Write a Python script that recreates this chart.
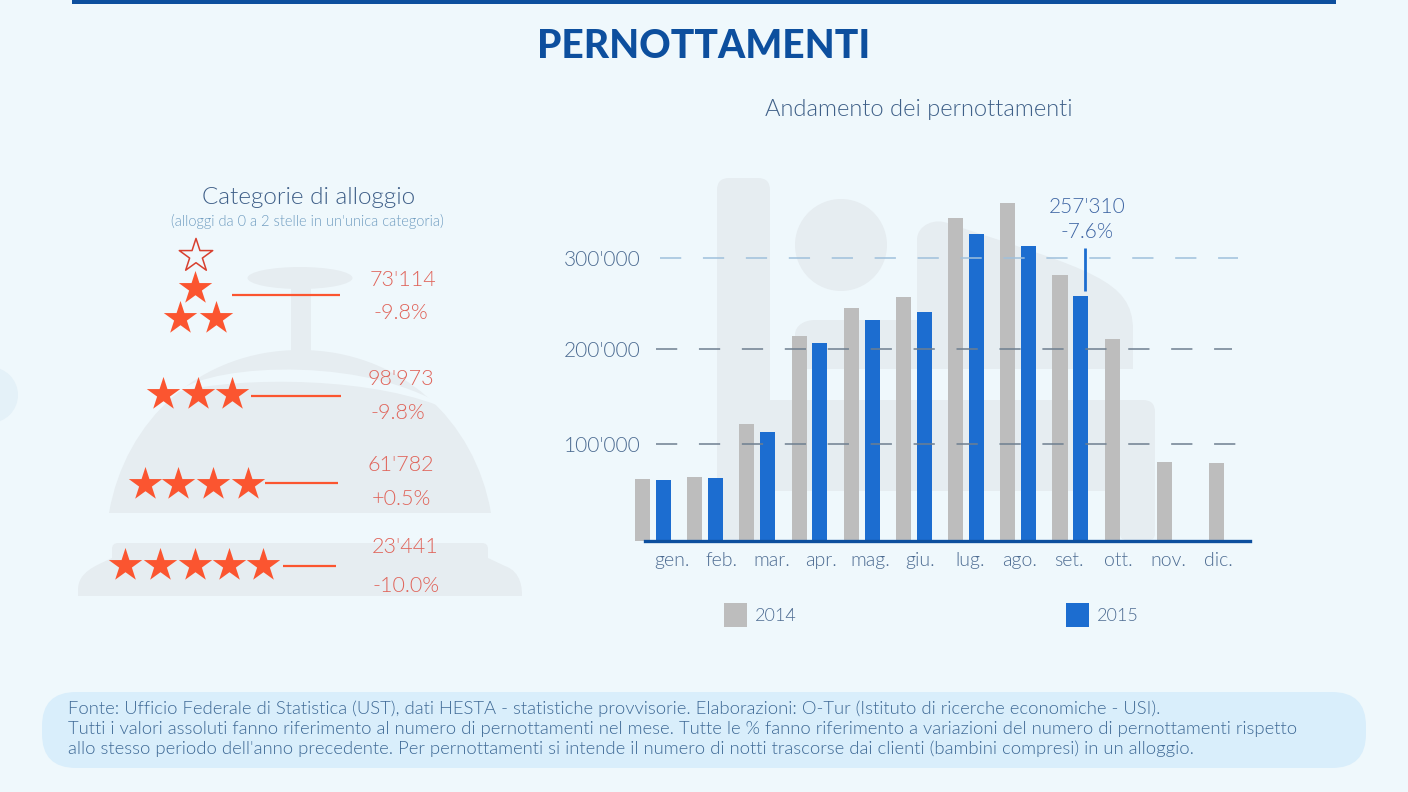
import numpy as np, pandas as pd, seaborn as sns
import matplotlib
matplotlib.use("Agg")
import matplotlib.pyplot as plt
from matplotlib.patches import FancyBboxPatch, Ellipse, Rectangle, PathPatch, Circle
from matplotlib.path import Path

mesi = ["gen.", "feb.", "mar.", "apr.", "mag.", "giu.", "lug.", "ago.", "set.", "ott.", "nov.", "dic."]
val_2014 = [65000, 67000, 123000, 215000, 245000, 256000, 339000, 355000, 279000, 212000, 83000, 82000]
val_2015 = [64000, 66000, 114500, 208000, 232000, 240500, 322500, 310000, 257310, np.nan, np.nan, np.nan]
griglia = [102000, 202000, 297000]
griglia_etichette = ["100'000", "200'000", "300'000"]
cat_numeri = ["73'114", "98'973", "61'782", "23'441"]
cat_var = ["-9.8%", "-9.8%", "+0.5%", "-10.0%"]

BG, SHAPE = "#eff8fc", "#e6edf1"
NAVY, BLUE, GREY, RED = "#0d4f9e", "#1c6dd0", "#bdbdbd", "#fb5530"
TXT = "#3f6088"
FONT = "Lato"
W = 300
PX = 52.18   # pixels per month

sns.set_theme(style="white")
plt.rcParams["font.family"] = [FONT, "DejaVu Sans"]
plt.rcParams["font.weight"] = W
fig = plt.figure(figsize=(14.08, 7.92), dpi=100, facecolor=BG)

p = fig.add_axes([0, 0, 1, 1], zorder=0)
p.set_xlim(0, 1408); p.set_ylim(792, 0); p.axis("off")

def poly(verts, codes, c=SHAPE):
    p.add_patch(PathPatch(Path(verts, codes), fc=c, ec="none"))
def rrect(x0, y0, x1, y1, r, c=SHAPE):
    p.add_patch(FancyBboxPatch((x0 + r, y0 + r), x1 - x0 - 2 * r, y1 - y0 - 2 * r,
                               boxstyle=f"round,pad={r},rounding_size={r}", fc=c, ec="none"))
M, L, C, Z = Path.MOVETO, Path.LINETO, Path.CURVE4, Path.CLOSEPOLY

p.add_patch(Rectangle((72, 0), 1264, 4, fc=NAVY, ec="none"))
p.add_patch(Circle((-10, 395), 28, fc="#e4f1f8", ec="none"))
rrect(42, 692, 1366, 768, 34, "#d9eefb")

# bell
p.add_patch(Ellipse((300, 278), 105, 22, fc=SHAPE, ec="none"))
p.add_patch(Rectangle((291, 285), 20, 70, fc=SHAPE, ec="none"))
poly([(109, 513), (125, 420), (200, 350), (300, 350), (400, 350), (475, 420), (491, 513), (109, 513)],
     [M, C, C, C, C, C, C, Z])
poly([(177, 392), (215, 362), (375, 356), (453, 412), (380, 376), (240, 376), (177, 392), (177, 392)],
     [M, C, C, C, C, C, C, Z], BG)
rrect(112, 543, 488, 575, 6)
poly([(112, 558), (95, 566), (78, 572), (78, 590), (78, 596), (522, 596), (522, 590), (522, 572), (505, 566),
      (488, 558), (112, 558)], [M, C, C, C, L, L, C, C, C, L, Z])

# person in bed
rrect(717, 178, 770, 540, 12)
p.add_patch(Ellipse((841, 245), 92, 92, fc=SHAPE, ec="none"))
poly([(917, 369), (917, 240), (917, 225), (935, 217), (950, 224), (1090, 270), (1133, 280), (1133, 330),
      (1133, 369), (917, 369)], [M, L, C, C, L, C, C, C, L, Z])
poly([(795, 369), (795, 335), (795, 325), (805, 320), (815, 320), (930, 320), (930, 369), (795, 369)],
     [M, L, C, C, C, L, L, Z])
rrect(760, 400, 1155, 491, 12)
rrect(1120, 440, 1155, 540, 6)

# left panel
stelle = [[(180, 318), (216, 318), (195, 288)],
          [(163, 394), (198, 394), (232, 394)],
          [(145, 484), (178, 484), (213, 484), (248, 484)],
          [(125, 565), (160, 565), (195, 565), (229, 565), (263, 565)]]
for gruppo in stelle:
    xs, ys = zip(*gruppo)
    p.scatter(xs, ys, marker="*", s=640, c=RED, linewidths=0)
p.scatter([196], [256], marker="*", s=640, facecolors="none", edgecolors="#d8402f", linewidths=1.1)
for x0, x1, y in [(232, 340, 295), (251, 341, 396), (265, 338, 483), (283, 336, 566)]:
    p.plot([x0, x1], [y, y], color=RED, lw=1.6, solid_capstyle="butt")
num_pos = [(403, 280), (401, 379), (401, 465), (405, 547)]
var_pos = [(401, 313), (398, 413), (401, 499), (406, 586)]
for t, (x, y) in zip(cat_numeri, num_pos):
    p.text(x, y, t, color="#e0645a", fontsize=15.5, ha="center", va="center")
for t, (x, y) in zip(cat_var, var_pos):
    p.text(x, y, t, color="#e0645a", fontsize=15.5, ha="center", va="center")

p.text(704, 46, "PERNOTTAMENTI", color=NAVY, fontsize=28, fontweight=900, ha="center", va="center")
p.text(919, 110, "Andamento dei pernottamenti", color=TXT, fontsize=17.0, ha="center", va="center")
p.text(309, 198, "Categorie di alloggio", color="#3f5f88", fontsize=17.5, ha="center", va="center")
p.text(307, 221, "(alloggi da 0 a 2 stelle in un'unica categoria)", color="#6f9cc0", fontsize=10.5, ha="center", va="center")

note = ["Fonte: Ufficio Federale di Statistica (UST), dati HESTA - statistiche provvisorie. Elaborazioni: O-Tur (Istituto di ricerche economiche - USI).",
        "Tutti i valori assoluti fanno riferimento al numero di pernottamenti nel mese. Tutte le % fanno riferimento a variazioni del numero di pernottamenti rispetto",
        "allo stesso periodo dell'anno precedente. Per pernottamenti si intende il numero di notti trascorse dai clienti (bambini compresi) in un alloggio."]
for t, y in zip(note, [709, 729, 749]):
    p.text(68, y, t, color="#3f6a96", fontsize=13.3, ha="left", va="center")

# bar chart
ax = fig.add_axes([600 / 1408, (792 - 541) / 792, 660 / 1408, 371 / 792], zorder=1)
ax.patch.set_alpha(0)
df = pd.DataFrame({"mese": mesi * 2,
                   "pernottamenti": val_2014 + val_2015,
                   "anno": ["2014"] * 12 + ["2015"] * 12})
sns.barplot(data=df, x="mese", y="pernottamenti", hue="anno", order=mesi, hue_order=["2014", "2015"],
            palette={"2014": GREY, "2015": BLUE}, width=0.8, gap=0.28, saturation=1, ax=ax)
for b in ax.patches:
    b.set_linewidth(0)
ax.set_xlim(-53 / PX, 607 / PX)
ax.set_ylim(0, 389700)
ax.set_xlabel(""); ax.set_ylabel("")

for lvl, c, x0, x1 in zip(griglia, ["#6e7f90", "#6e7f90", "#9fc0dc"], [656, 656, 660], [1237, 1232, 1238]):
    ax.hlines(lvl, (x0 - 653) / PX, (x1 - 653) / PX, colors=c, lw=1.1, linestyles=(0, (13.9, 14.2)), zorder=4)

ax.set_yticks(griglia, griglia_etichette)
ax.tick_params(axis="y", length=0, pad=-29, labelsize=15, labelcolor="#4d6c92")
ax.set_xticks(np.arange(12) * 0.951 + 0.365, mesi)
ax.tick_params(axis="x", length=0, pad=8, labelsize=14, labelcolor="#4d6c92")

sns.despine(ax=ax, left=True)
ax.spines["bottom"].set_color(NAVY)
ax.spines["bottom"].set_linewidth(2.4)
ax.spines["bottom"].set_bounds(-8 / PX, 597 / PX)
ax.spines["bottom"].set_zorder(5)

set_val = val_2015[8]
xann = 432 / PX
ax.plot([xann, xann], [set_val + 5300, set_val + 50500], color=BLUE, lw=2, solid_capstyle="butt", zorder=5)
ax.annotate("257'310\n-7.6%", (xann, set_val + 50500), xytext=(1.5, 4.5), textcoords="offset points",
            ha="center", va="bottom", color="#3f66a4", fontsize=15, linespacing=1.3)

h, l = ax.get_legend_handles_labels()
ax.legend(h, l, ncol=2, loc="upper left", bbox_to_anchor=(724 / 1408, 1 - 603 / 792), bbox_transform=fig.transFigure,
          frameon=False, borderpad=0, borderaxespad=0, fontsize=13, handlelength=1.27, handleheight=1.67,
          handletextpad=0.44, columnspacing=14.93, labelcolor="#4d6c92", title=None)

fig.savefig("out.png", dpi=100, facecolor=BG)
